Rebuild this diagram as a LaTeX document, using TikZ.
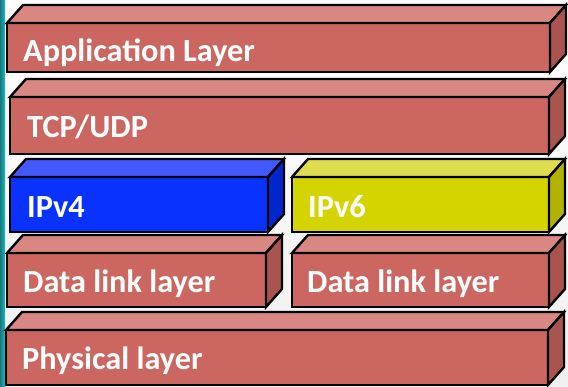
\documentclass[tikz,border=0pt]{standalone}
\usepackage{fontspec}
\setmainfont{Carlito}
\usetikzlibrary{calc}

% face colours of the layer blocks
\definecolor{redfront}{HTML}{CC6661}
\definecolor{redtop}{HTML}{D98783}
\definecolor{redside}{HTML}{AA5450}
\definecolor{bluefront}{HTML}{0A32FF}
\definecolor{bluetop}{HTML}{4458FF}
\definecolor{blueside}{HTML}{0026CC}
\definecolor{yelfront}{HTML}{D4D400}
\definecolor{yeltop}{HTML}{DDDD4E}
\definecolor{yelside}{HTML}{B2B200}
\definecolor{stripteal}{HTML}{23939A}

\tikzset{
  edge/.style={draw=black, line width=2.4pt, line join=miter},
  redfront/.style={edge, fill=redfront},
  redtop/.style={edge, fill=redtop},
  redside/.style={edge, fill=redside},
  bluefront/.style={edge, fill=bluefront},
  bluetop/.style={edge, fill=bluetop},
  blueside/.style={edge, fill=blueside},
  yelfront/.style={edge, fill=yelfront},
  yeltop/.style={edge, fill=yeltop},
  yelside/.style={edge, fill=yelside},
  layertext/.style={text=white, anchor=base west, inner sep=0pt,
    font=\bfseries\fontsize{32.3}{38}\selectfont},
}

% depth of the 3D blocks (right, up)
\newcommand\dpx{16}
\newcommand\dpy{18}

% \layerblock{name}{x1}{y1}{x2}{y2}{colour}{text}{text x}{text baseline}
\newcommand\layerblock[9]{%
  \node[#6front, inner sep=0pt, outer sep=0pt, anchor=north west,
        minimum width={(#4-#2)*1pt}, minimum height={(#5-#3)*1pt}]
        (#1) at (#2,#3) {};
  \path[#6top] (#1.north west) -- ++(\dpx,-\dpy) -- ($(#1.north east)+(\dpx,-\dpy)$)
        -- (#1.north east) -- cycle;
  \path[#6side] (#1.north east) -- ++(\dpx,-\dpy) -- ($(#1.south east)+(\dpx,-\dpy)$)
        -- (#1.south east) -- cycle;
  \node[layertext] (#1text) at (#8,#9) {#7};
}

\begin{document}
\begin{tikzpicture}[x=1pt, y=-1pt]
  % page background and the teal strip at the left edge
  \useasboundingbox (0,0) rectangle (568,387);
  \shade[top color=white, bottom color=black!6] (0,0) rectangle (568,387);
  \shade[left color=stripteal!80!black, right color=stripteal!60!cyan] (0,0) rectangle (5,387);

  \layerblock{app}{7}{23}{550}{72}{red}{Application Layer}{23}{62}
  \layerblock{tcp}{10}{97}{549}{154}{red}{TCP/UDP}{27}{138}
  \layerblock{ipv4}{10}{177}{268}{232}{blue}{IPv4}{27}{218}
  \layerblock{ipv6}{292}{177}{549}{232}{yel}{IPv6}{308}{218}
  \layerblock{dlleft}{7}{253}{266}{307}{red}{Data link layer}{23}{293}
  \layerblock{dlright}{292}{253}{549}{307}{red}{Data link layer}{307}{293}
  \layerblock{phys}{6}{330}{548}{385}{red}{Physical layer}{22}{370}
\end{tikzpicture}
\end{document}
